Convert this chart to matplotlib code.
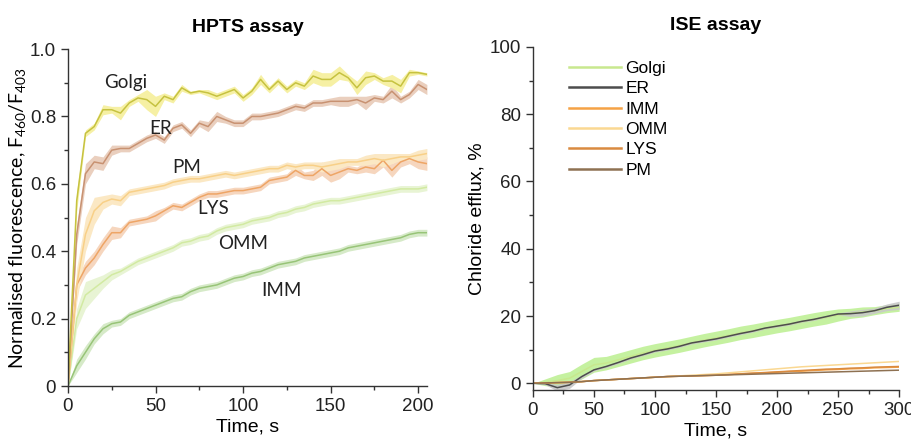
import numpy as np
import matplotlib
matplotlib.use("Agg")
import matplotlib.pyplot as plt
from matplotlib.ticker import MultipleLocator

plt.rcParams['font.family'] = ['Liberation Sans', 'DejaVu Sans']

# ---------------- HPTS assay data (t every 5 s) ----------------
t_hpts = np.arange(0, 206, 5)

golgi_h = [0, 0.55, 0.75, 0.77, 0.82, 0.82, 0.81, 0.84, 0.855, 0.85, 0.83, 0.86, 0.85, 0.885,
           0.87, 0.875, 0.87, 0.86, 0.87, 0.88, 0.855, 0.875, 0.91, 0.88, 0.905, 0.88, 0.9, 0.89,
           0.92, 0.91, 0.91, 0.93, 0.915, 0.885, 0.915, 0.92, 0.905, 0.905, 0.89, 0.93, 0.93, 0.925]
golgi_h_err = [0, 0.03, 0.01, 0.01, 0.015, 0.01, 0.02, 0.01, 0.01, 0.03, 0.03, 0.01, 0.01, 0.01,
               0.005, 0.005, 0.01, 0.01, 0.01, 0.01, 0.01, 0.01, 0.015, 0.01, 0.01, 0.01, 0.01, 0.01,
               0.02, 0.02, 0.02, 0.02, 0.01, 0.02, 0.02, 0.01, 0.01, 0.02, 0.02, 0.01, 0.005, 0.005]

er_h = [0, 0.45, 0.63, 0.665, 0.66, 0.70, 0.705, 0.705, 0.72, 0.735, 0.745, 0.73, 0.765, 0.775,
        0.75, 0.78, 0.77, 0.80, 0.79, 0.78, 0.78, 0.80, 0.80, 0.805, 0.81, 0.82, 0.83, 0.825,
        0.84, 0.84, 0.845, 0.845, 0.845, 0.85, 0.84, 0.855, 0.85, 0.875, 0.85, 0.865, 0.895, 0.88]
er_h_err = [0, 0.03, 0.03, 0.02, 0.02, 0.015, 0.01, 0.01, 0.01, 0.01, 0.01, 0.01, 0.01, 0.01,
            0.01, 0.01, 0.015, 0.015, 0.01, 0.01, 0.01, 0.01, 0.01, 0.01, 0.01, 0.01, 0.01, 0.01,
            0.01, 0.01, 0.01, 0.015, 0.015, 0.01, 0.02, 0.01, 0.01, 0.02, 0.01, 0.01, 0.015, 0.015]

pm_h = [0, 0.30, 0.45, 0.52, 0.545, 0.555, 0.55, 0.575, 0.58, 0.585, 0.59, 0.595, 0.605, 0.61,
        0.615, 0.615, 0.62, 0.625, 0.63, 0.625, 0.63, 0.635, 0.64, 0.645, 0.645, 0.655, 0.65, 0.655,
        0.655, 0.65, 0.655, 0.66, 0.665, 0.665, 0.67, 0.675, 0.67, 0.675, 0.68, 0.68, 0.685, 0.69]
pm_h_err = [0, 0.05, 0.05, 0.04, 0.02, 0.015, 0.015, 0.01, 0.01, 0.01, 0.01, 0.01, 0.01, 0.01,
            0.01, 0.01, 0.01, 0.01, 0.01, 0.01, 0.01, 0.01, 0.01, 0.01, 0.01, 0.01, 0.01, 0.01,
            0.01, 0.015, 0.015, 0.015, 0.01, 0.01, 0.015, 0.015, 0.02, 0.015, 0.01, 0.01, 0.015, 0.015]

lys_h = [0, 0.30, 0.35, 0.38, 0.42, 0.455, 0.455, 0.485, 0.49, 0.495, 0.505, 0.52, 0.535, 0.53,
         0.545, 0.56, 0.57, 0.57, 0.575, 0.58, 0.58, 0.585, 0.59, 0.61, 0.615, 0.62, 0.64, 0.625,
         0.625, 0.645, 0.625, 0.635, 0.645, 0.64, 0.65, 0.645, 0.67, 0.64, 0.665, 0.675, 0.665, 0.66]
lys_h_err = [0, 0.02, 0.02, 0.02, 0.02, 0.02, 0.015, 0.01, 0.01, 0.01, 0.015, 0.01, 0.01, 0.01,
             0.01, 0.01, 0.01, 0.01, 0.01, 0.01, 0.01, 0.01, 0.01, 0.01, 0.01, 0.01, 0.015, 0.01,
             0.015, 0.02, 0.02, 0.02, 0.01, 0.01, 0.015, 0.015, 0.02, 0.02, 0.015, 0.015, 0.02, 0.02]

omm_h = [0, 0.20, 0.27, 0.29, 0.31, 0.33, 0.34, 0.355, 0.37, 0.38, 0.39, 0.40, 0.41, 0.425,
         0.43, 0.44, 0.445, 0.46, 0.47, 0.475, 0.48, 0.49, 0.495, 0.50, 0.51, 0.515, 0.525, 0.53,
         0.54, 0.545, 0.55, 0.55, 0.555, 0.56, 0.565, 0.57, 0.575, 0.58, 0.585, 0.585, 0.585, 0.59]
omm_h_err = [0, 0.03, 0.04, 0.03, 0.02, 0.015, 0.01, 0.01, 0.01, 0.01, 0.01, 0.01, 0.01, 0.01,
             0.01, 0.01, 0.01, 0.01, 0.01, 0.01, 0.01, 0.01, 0.01, 0.01, 0.01, 0.01, 0.01, 0.01,
             0.01, 0.01, 0.01, 0.01, 0.01, 0.01, 0.01, 0.01, 0.01, 0.01, 0.01, 0.01, 0.01, 0.01]

imm_h = [0, 0.06, 0.10, 0.14, 0.17, 0.185, 0.19, 0.21, 0.22, 0.23, 0.24, 0.25, 0.26, 0.265,
         0.28, 0.29, 0.295, 0.30, 0.31, 0.32, 0.325, 0.335, 0.34, 0.35, 0.36, 0.365, 0.37, 0.38,
         0.385, 0.39, 0.395, 0.40, 0.41, 0.415, 0.42, 0.425, 0.43, 0.435, 0.44, 0.45, 0.455, 0.455]
imm_h_err = [0, 0.02, 0.02, 0.015, 0.015, 0.01, 0.01, 0.01, 0.01, 0.01, 0.01, 0.01, 0.01, 0.01,
             0.01, 0.01, 0.01, 0.01, 0.01, 0.01, 0.01, 0.01, 0.01, 0.01, 0.01, 0.01, 0.01, 0.01,
             0.01, 0.01, 0.01, 0.01, 0.01, 0.01, 0.01, 0.01, 0.01, 0.01, 0.01, 0.01, 0.01, 0.01]

# ---------------- ISE assay data (t every 10 s) ----------------
t_ise = np.arange(0, 301, 10)

golgi_i = [0, 0.3, 0.8, 1.5, 3.5, 5.5, 6.0, 7.0, 8.0, 9.0, 9.8, 10.5, 11.2, 12.0, 12.8, 13.5,
           14.2, 15.0, 15.6, 16.3, 17.0, 17.6, 18.3, 19.0, 19.6, 20.3, 20.8, 21.2, 21.6, 22.2, 22.6]
golgi_i_err = [0, 1.0, 1.8, 2.0, 2.2, 2.2, 2.0, 2.0, 2.0, 2.0, 2.0, 2.0, 2.0, 2.0, 2.0, 2.0,
               2.0, 2.0, 2.0, 2.0, 2.0, 2.0, 2.0, 2.0, 2.0, 1.8, 1.5, 1.5, 1.2, 1.2, 1.2]
er_i = [0, -0.1, -1.3, -0.5, 2.0, 4.0, 5.0, 6.2, 7.5, 8.5, 9.6, 10.2, 11.0, 12.0, 12.6, 13.2,
        14.0, 14.8, 15.5, 16.4, 17.0, 17.6, 18.4, 19.0, 19.8, 20.6, 20.7, 21.0, 21.6, 22.6, 23.2]
er_i_err = [0, 0.3, 1.0, 1.0, 0.5, 0.3, 0.3, 0.3, 0.3, 0.3, 0.3, 0.3, 0.3, 0.3, 0.3, 0.3,
            0.3, 0.3, 0.3, 0.3, 0.3, 0.3, 0.3, 0.3, 0.3, 0.3, 0.8, 1.0, 0.8, 1.0, 1.2]
imm_i = [0, 0.1, 0.2, 0.3, 0.5, 0.8, 1.0, 1.2, 1.4, 1.6, 1.8, 2.0, 2.1, 2.2, 2.3, 2.4,
         2.6, 2.8, 3.0, 3.1, 3.3, 3.5, 3.6, 3.8, 4.0, 4.1, 4.3, 4.4, 4.6, 4.7, 4.8]
omm_i = [0, 0.1, 0.2, 0.3, 0.5, 0.8, 1.0, 1.2, 1.4, 1.6, 1.8, 2.0, 2.2, 2.4, 2.6, 2.8,
         3.1, 3.4, 3.7, 4.0, 4.3, 4.6, 4.9, 5.1, 5.3, 5.5, 5.7, 5.9, 6.1, 6.3, 6.5]
lys_i = [0, 0.1, 0.2, 0.3, 0.5, 0.8, 1.0, 1.2, 1.4, 1.6, 1.8, 2.0, 2.1, 2.2, 2.3, 2.4,
         2.6, 2.8, 3.0, 3.2, 3.4, 3.6, 3.8, 4.0, 4.2, 4.3, 4.5, 4.6, 4.8, 4.9, 5.0]
pm_i = [0, 0.1, 0.2, 0.3, 0.5, 0.8, 1.0, 1.2, 1.4, 1.6, 1.8, 2.0, 2.1, 2.2, 2.3, 2.4,
        2.5, 2.6, 2.7, 2.8, 2.9, 3.0, 3.1, 3.2, 3.3, 3.4, 3.5, 3.6, 3.7, 3.8, 3.9]

fig = plt.figure(figsize=(9.11, 4.41), dpi=100)
ax1 = fig.add_axes([0.0746, 0.1247, 0.394, 0.764])
ax2 = fig.add_axes([0.585, 0.1156, 0.402, 0.778])

def style(ax):
    for s in ['top', 'right']:
        ax.spines[s].set_visible(False)
    for s in ['left', 'bottom']:
        ax.spines[s].set_color('#333333')
        ax.spines[s].set_linewidth(1.0)
    ax.tick_params(which='major', direction='out', length=5, width=1, color='#333333',
                   labelsize=13.5, labelcolor='#222222')
    ax.tick_params(which='minor', direction='out', length=3, width=1, color='#333333')

# HPTS
hpts = [
    (imm_h, imm_h_err, '#98c478', '#d6eac8'),
    (omm_h, omm_h_err, '#d2eaa2', '#e8f4d4'),
    (lys_h, lys_h_err, '#eea566', '#f6d6be'),
    (pm_h, pm_h_err, '#f8d088', '#fbe8c4'),
    (er_h, er_h_err, '#c89272', '#eacfbe'),
    (golgi_h, golgi_h_err, '#c6c240', '#f6f0a4'),
]
for y, e, lc, fc in hpts:
    y = np.array(y); e = np.array(e)
    ax1.fill_between(t_hpts, y - e, y + e, color=fc, lw=0)
    ax1.plot(t_hpts, y, color=lc, lw=1.1)

labels = [('Golgi', 33, 0.90), ('ER', 53, 0.765), ('PM', 68, 0.65),
          ('LYS', 83, 0.527), ('OMM', 100, 0.423), ('IMM', 122, 0.284)]
for txt, tx, ty in labels:
    ax1.text(tx, ty, txt, ha='center', va='center', fontsize=13.5, color='#222222',
             family=['Lato', 'DejaVu Sans'])

ax1.set_xlim(0, 205)
ax1.set_ylim(0, 1.0)
ax1.xaxis.set_major_locator(MultipleLocator(50))
ax1.xaxis.set_minor_locator(MultipleLocator(25))
ax1.yaxis.set_major_locator(MultipleLocator(0.2))
ax1.yaxis.set_minor_locator(MultipleLocator(0.1))
ax1.set_yticks([0, 0.2, 0.4, 0.6, 0.8, 1.0], ['0', '0.2', '0.4', '0.6', '0.8', '1.0'])
style(ax1)
ax1.set_title('HPTS assay', fontsize=14, fontweight='bold', pad=12)
ax1.set_xlabel('Time, s', fontsize=14, labelpad=3)
ax1.set_ylabel('Normalised fluorescence, F$_\\mathregular{460}$/F$_\\mathregular{403}$',
               fontsize=14, family=['Lato', 'DejaVu Sans'], labelpad=1)

# ISE
ise = [
    ('Golgi', golgi_i, golgi_i_err, '#c8e88e', '#bff096'),
    ('ER', er_i, er_i_err, '#4d4d4d', '#c8c8c8'),
    ('IMM', imm_i, None, '#f5a245', None),
    ('OMM', omm_i, None, '#fad892', None),
    ('LYS', lys_i, None, '#d98a40', None),
    ('PM', pm_i, None, '#8e7152', None),
]
for name, y, e, lc, fc in ise:
    y = np.array(y)
    if e is not None:
        e = np.array(e)
        ax2.fill_between(t_ise, y - e, y + e, color=fc, lw=0, alpha=0.9)
for name, y, e, lc, fc in ise:
    ax2.plot(t_ise, y, color=lc, lw=1.1, label=name)

ax2.set_xlim(0, 300)
ax2.set_ylim(-2, 100)
ax2.xaxis.set_major_locator(MultipleLocator(50))
ax2.xaxis.set_minor_locator(MultipleLocator(25))
ax2.yaxis.set_major_locator(MultipleLocator(20))
ax2.yaxis.set_minor_locator(MultipleLocator(10))
style(ax2)
ax2.set_yticks([0, 20, 40, 60, 80, 100])
ax2.set_title('ISE assay', fontsize=14, fontweight='bold', pad=12)
ax2.set_xlabel('Time, s', fontsize=14, labelpad=3)
ax2.set_ylabel('Chloride efflux, %', fontsize=14, labelpad=3)
leg = ax2.legend(loc='upper left', bbox_to_anchor=(0.055, 1.005), frameon=False,
                 fontsize=12.5, handlelength=3.0, labelspacing=0.3, handletextpad=0.25)
for line in leg.get_lines():
    line.set_linewidth(1.8)

fig.savefig('out.png', dpi=100)
